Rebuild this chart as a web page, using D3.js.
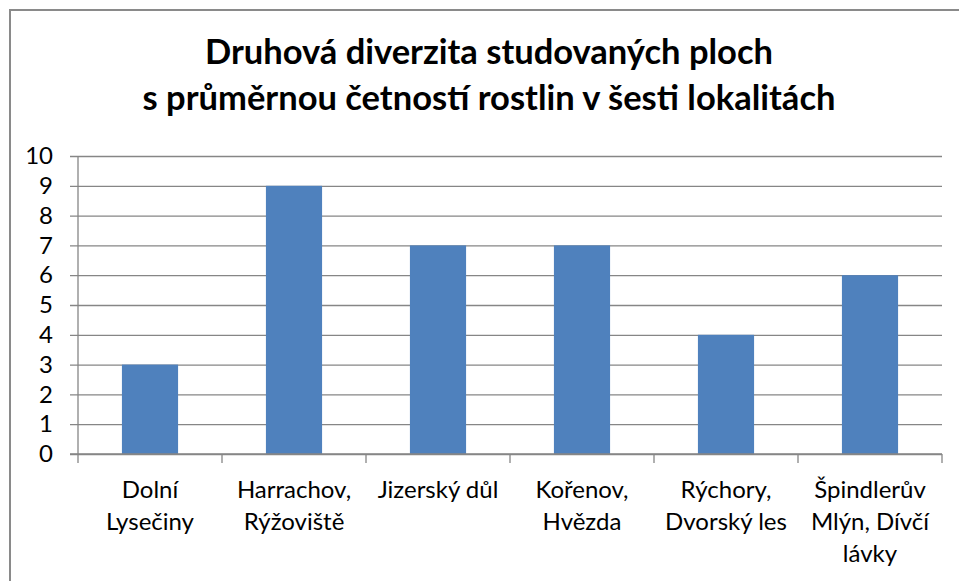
<!DOCTYPE html>
<html>
<head>
<meta charset="utf-8">
<script src="https://cdn.jsdelivr.net/npm/d3@7"></script>
<style>
  body { margin: 0; background: #fff; }
  text { font-family: Lato, "Open Sans", sans-serif; fill: #000; }
</style>
</head>
<body>
<svg id="chart" width="959" height="581"></svg>
<script>
// data
var titleLines = ["Druhová diverzita studovaných ploch", "s průměrnou četností rostlin v šesti lokalitách"];
var categories = ["Dolní Lysečiny", "Harrachov, Rýžoviště", "Jizerský důl", "Kořenov, Hvězda", "Rýchory, Dvorský les", "Špindlerův Mlýn, Dívčí lávky"];
var labelLines = [["Dolní", "Lysečiny"], ["Harrachov,", "Rýžoviště"], ["Jizerský důl"], ["Kořenov,", "Hvězda"], ["Rýchory,", "Dvorský les"], ["Špindlerův", "Mlýn, Dívčí", "lávky"]];
var values = [3, 9, 7, 7, 4, 6];
var yTicks = [0, 1, 2, 3, 4, 5, 6, 7, 8, 9, 10];

var svg = d3.select("#chart");
var grey = "#868686";

// outer chart border (right and bottom run off the picture)
svg.append("rect")
  .attr("x", 10).attr("y", 10)
  .attr("width", 980).attr("height", 600)
  .attr("fill", "none")
  .attr("stroke", "#8a8a8a")
  .attr("stroke-width", 2);

var plotLeft = 78, plotRight = 942, plotTop = 156, plotBottom = 454;

var x = d3.scaleBand()
  .domain(categories)
  .range([plotLeft, plotRight])
  .padding(0);

var y = d3.scaleLinear()
  .domain([0, 10])
  .range([plotBottom, plotTop]);

// title
svg.append("g").selectAll("text")
  .data(titleLines)
  .enter()
  .append("text")
    .attr("x", 489)
    .attr("y", function(d, i) { return 64 + i * 46; })
    .attr("text-anchor", "middle")
    .attr("font-size", 34.5)
    .attr("font-weight", "bold")
    .text(function(d) { return d; });

// gridlines + y axis
var yAxis = svg.append("g")
  .attr("transform", "translate(" + plotLeft + ",0)")
  .call(d3.axisLeft(y).tickValues(yTicks).tickSize(-(plotRight - plotLeft)).tickSizeOuter(0).tickPadding(25));
yAxis.select(".domain").remove();
yAxis.selectAll(".tick line")
  .attr("x1", -8)
  .attr("stroke", grey)
  .attr("stroke-width", 1.3);
yAxis.selectAll(".tick text")
  .attr("font-size", 24)
  .attr("font-family", "Lato, sans-serif")
  .attr("fill", "#000");

// vertical axis line
svg.append("line")
  .attr("x1", plotLeft).attr("x2", plotLeft)
  .attr("y1", plotTop).attr("y2", plotBottom)
  .attr("stroke", grey).attr("stroke-width", 1.3);

// bars
svg.append("g").selectAll("rect")
  .data(values)
  .enter()
  .append("rect")
    .attr("x", function(d, i) { return x(categories[i]) + x.bandwidth() * 0.305; })
    .attr("width", x.bandwidth() * 0.39)
    .attr("y", function(d) { return y(d); })
    .attr("height", function(d) { return y(0) - y(d); })
    .attr("fill", "#4F81BD");

// x axis: baseline and ticks between categories
var xg = svg.append("g");
xg.append("line")
  .attr("x1", plotLeft - 8).attr("x2", plotRight)
  .attr("y1", plotBottom).attr("y2", plotBottom)
  .attr("stroke", grey).attr("stroke-width", 1.3);
var bounds = categories.map(function(c) { return x(c); }).concat([plotRight]);
xg.selectAll(".xtick")
  .data(bounds)
  .enter()
  .append("line")
    .attr("class", "xtick")
    .attr("x1", function(d) { return d; }).attr("x2", function(d) { return d; })
    .attr("y1", plotBottom).attr("y2", plotBottom + 9)
    .attr("stroke", grey).attr("stroke-width", 1.3);

// category labels
var lab = svg.append("g").selectAll("text")
  .data(categories)
  .enter()
  .append("text")
    .attr("text-anchor", "middle")
    .attr("font-size", 24);
lab.each(function(c, i) {
  var t = d3.select(this);
  labelLines[i].forEach(function(line, j) {
    t.append("tspan")
      .attr("x", x(c) + x.bandwidth() / 2)
      .attr("y", 498 + j * 32)
      .text(line);
  });
});
</script>
</body>
</html>
